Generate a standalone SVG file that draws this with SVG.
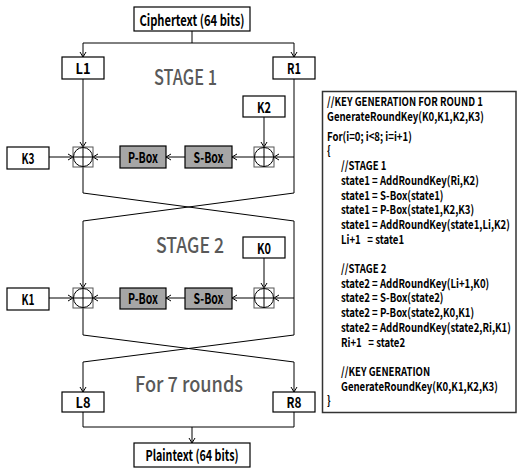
<svg xmlns="http://www.w3.org/2000/svg" width="517" height="468" viewBox="0 0 517 468">
<style>
.bx{fill:#fff;stroke:#000;stroke-width:1.2}
.gb{fill:#a6a6a6;stroke:#000;stroke-width:1.2}
.lb{font-family:"Noto Sans CJK KR","Noto Sans",sans-serif;font-weight:bold;font-size:15px;text-anchor:middle;fill:#000}
.st{font-family:"Noto Sans CJK KR","Noto Sans",sans-serif;font-weight:500;font-size:21px;text-anchor:middle;fill:#595959}
.cd{font-family:"Noto Sans CJK KR","Noto Sans",sans-serif;font-weight:bold;font-size:12px;fill:#000}
.ln{fill:none;stroke:#000;stroke-width:1}
.xs{fill:#fff;stroke:#555;stroke-width:1}
.xc{fill:none;stroke:#000;stroke-width:1}
</style>
<defs>
<marker id="arr" viewBox="0 0 8 8" refX="7.5" refY="4" markerWidth="8" markerHeight="8" markerUnits="userSpaceOnUse" orient="auto">
<path d="M2.5,1 L7.5,4 L2.5,7" fill="none" stroke="#000" stroke-width="1"/>
</marker>
<g id="xor">
<rect class="xs" x="-10" y="-10" width="20" height="20"/>
<circle class="xc" cx="0" cy="0" r="9.5"/>
<path class="xc" d="M-9.5,0 H9.5 M0,-9.5 V9.5"/>
</g>
</defs>

<g id="connectors">
<path class="ln" d="M192,31 V43 M83,43 H294"/>
<path class="ln" d="M83,43 V57" marker-end="url(#arr)"/>
<path class="ln" d="M294,43 V57" marker-end="url(#arr)"/>
<path class="ln" d="M83,79 V147" marker-end="url(#arr)"/>
<path class="ln" d="M294,79 V193 L83,221 V288" marker-end="url(#arr)"/>
<path class="ln" d="M294,157 H274" marker-end="url(#arr)"/>
<path class="ln" d="M264,117 V147" marker-end="url(#arr)"/>
<path class="ln" d="M254,157 H232" marker-end="url(#arr)"/>
<path class="ln" d="M185,157 H166" marker-end="url(#arr)"/>
<path class="ln" d="M120,157 H93" marker-end="url(#arr)"/>
<path class="ln" d="M49,157 H73" marker-end="url(#arr)"/>
<path class="ln" d="M83,167 V193 L294,221 V335 L83,362 V392" marker-end="url(#arr)"/>
<path class="ln" d="M294,298 H274" marker-end="url(#arr)"/>
<path class="ln" d="M264,258 V288" marker-end="url(#arr)"/>
<path class="ln" d="M254,298 H232" marker-end="url(#arr)"/>
<path class="ln" d="M185,298 H166" marker-end="url(#arr)"/>
<path class="ln" d="M120,298 H93" marker-end="url(#arr)"/>
<path class="ln" d="M49,298 H73" marker-end="url(#arr)"/>
<path class="ln" d="M83,308 V335 L294,362 V392" marker-end="url(#arr)"/>
<path class="ln" d="M83,412 V427 H294 V412"/>
<path class="ln" d="M192,427 V443" marker-end="url(#arr)"/>
</g>

<g id="ciphertext"><rect class="bx" x="134" y="7" width="116" height="24"/><text class="lb" x="192" y="25.5" textLength="105" lengthAdjust="spacingAndGlyphs">Ciphertext (64 bits)</text></g>
<g id="L1"><rect class="bx" x="62" y="57" width="42" height="22"/><text class="lb" x="83" y="74" textLength="15" lengthAdjust="spacingAndGlyphs">L1</text></g>
<g id="R1"><rect class="bx" x="273" y="57" width="42" height="22"/><text class="lb" x="294" y="74" textLength="14" lengthAdjust="spacingAndGlyphs">R1</text></g>
<g id="stage1"><text class="st" x="185.5" y="85" textLength="63" lengthAdjust="spacingAndGlyphs">STAGE 1</text></g>
<g id="K2"><rect class="bx" x="243" y="96" width="42" height="21"/><text class="lb" x="264" y="112.5" textLength="14" lengthAdjust="spacingAndGlyphs">K2</text></g>
<g id="xor1r"><use href="#xor" x="264" y="157"/></g>
<g id="sbox1"><rect class="gb" x="185" y="146" width="47" height="22"/><text class="lb" x="208.5" y="162.5" textLength="30" lengthAdjust="spacingAndGlyphs">S-Box</text></g>
<g id="pbox1"><rect class="gb" x="120" y="146" width="46" height="22"/><text class="lb" x="143" y="162.5" textLength="30" lengthAdjust="spacingAndGlyphs">P-Box</text></g>
<g id="xor1l"><use href="#xor" x="83" y="157"/></g>
<g id="K3"><rect class="bx" x="7" y="147" width="42" height="22"/><text class="lb" x="28" y="163.5" textLength="13" lengthAdjust="spacingAndGlyphs">K3</text></g>

<g id="stage2"><text class="st" x="190" y="253" textLength="68" lengthAdjust="spacingAndGlyphs">STAGE 2</text></g>
<g id="K0"><rect class="bx" x="243" y="237" width="42" height="21"/><text class="lb" x="264" y="253.5" textLength="14" lengthAdjust="spacingAndGlyphs">K0</text></g>
<g id="xor2r"><use href="#xor" x="264" y="298"/></g>
<g id="sbox2"><rect class="gb" x="185" y="288" width="47" height="21"/><text class="lb" x="208.5" y="304" textLength="30" lengthAdjust="spacingAndGlyphs">S-Box</text></g>
<g id="pbox2"><rect class="gb" x="120" y="288" width="46" height="21"/><text class="lb" x="143" y="304" textLength="30" lengthAdjust="spacingAndGlyphs">P-Box</text></g>
<g id="xor2l"><use href="#xor" x="83" y="298"/></g>
<g id="K1"><rect class="bx" x="7" y="288" width="42" height="22"/><text class="lb" x="28" y="304.5" textLength="13" lengthAdjust="spacingAndGlyphs">K1</text></g>

<g id="rounds"><text class="st" x="189" y="392" textLength="108" lengthAdjust="spacingAndGlyphs">For 7 rounds</text></g>
<g id="L8"><rect class="bx" x="62" y="392" width="42" height="20"/><text class="lb" x="83" y="407.5" textLength="15" lengthAdjust="spacingAndGlyphs">L8</text></g>
<g id="R8"><rect class="bx" x="273" y="392" width="42" height="20"/><text class="lb" x="294" y="407.5" textLength="15" lengthAdjust="spacingAndGlyphs">R8</text></g>
<g id="plaintext"><rect class="bx" x="134" y="443" width="116" height="24"/><text class="lb" x="192" y="461" textLength="93" lengthAdjust="spacingAndGlyphs">Plaintext (64 bits)</text></g>

<g id="code">
<rect x="322.5" y="91.5" width="193.5" height="321" fill="#fff" stroke="#333" stroke-width="1.5"/>
<g transform="translate(327,0) scale(0.8,1)">
<text class="cd" x="0" y="106">//KEY GENERATION FOR ROUND 1</text>
<text class="cd" x="0" y="121">GenerateRoundKey(K0,K1,K2,K3)</text>
<text class="cd" x="0" y="141">For(i=0; i&lt;8; i=i+1)</text>
<text class="cd" x="0" y="155">{</text>
<text class="cd" x="17.5" y="170">//STAGE 1</text>
<text class="cd" x="17.5" y="185">state1 = AddRoundKey(Ri,K2)</text>
<text class="cd" x="17.5" y="200">state1 = S-Box(state1)</text>
<text class="cd" x="17.5" y="214">state1 = P-Box(state1,K2,K3)</text>
<text class="cd" x="17.5" y="229">state1 = AddRoundKey(state1,Li,K2)</text>
<text class="cd" x="17.5" y="244" xml:space="preserve">Li+1   = state1</text>
<text class="cd" x="17.5" y="273">//STAGE 2</text>
<text class="cd" x="17.5" y="288">state2 = AddRoundKey(Li+1,K0)</text>
<text class="cd" x="17.5" y="302">state2 = S-Box(state2)</text>
<text class="cd" x="17.5" y="317">state2 = P-Box(state2,K0,K1)</text>
<text class="cd" x="17.5" y="332">state2 = AddRoundKey(state2,Ri,K1)</text>
<text class="cd" x="17.5" y="347" xml:space="preserve">Ri+1   = state2</text>
<text class="cd" x="17.5" y="376">//KEY GENERATION</text>
<text class="cd" x="17.5" y="391">GenerateRoundKey(K0,K1,K2,K3)</text>
<text class="cd" x="0" y="405">}</text>
</g>
</g>
</svg>
